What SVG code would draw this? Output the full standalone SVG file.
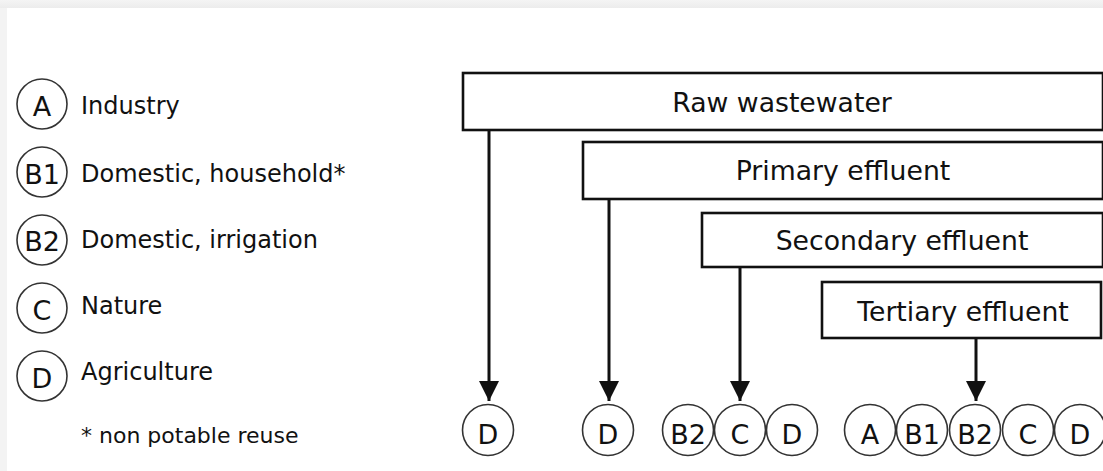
<svg xmlns="http://www.w3.org/2000/svg" width="1103" height="471" viewBox="0 0 1103 471">
<style>
.bg{fill:#ffffff}
.box{fill:#ffffff;stroke:#111;stroke-width:2.6}
.circ{fill:#ffffff;stroke:#333;stroke-width:1.6}
.lbl{font-family:"DejaVu Sans",Verdana,sans-serif;font-size:24px;fill:#111}
.btxt{font-family:"DejaVu Sans",Verdana,sans-serif;font-size:26.7px;fill:#111;text-anchor:middle}
.ctxt{font-family:"DejaVu Sans",Verdana,sans-serif;font-size:27px;fill:#111;text-anchor:middle}
.conn{stroke:#111;stroke-width:3;fill:none}
</style>
<defs>
<marker id="arr" viewBox="0 0 20 20" markerWidth="20" markerHeight="20" refX="20" refY="10" orient="auto" markerUnits="userSpaceOnUse">
<path d="M0,0 L20,10 L0,20 Z" fill="#111"/>
</marker>
<linearGradient id="topg" x1="0" y1="0" x2="0" y2="1"><stop offset="0" stop-color="#f4f4f4"/><stop offset="1" stop-color="#ececec"/></linearGradient>
</defs>
<rect class="bg" x="0" y="0" width="1103" height="471"/>
<rect x="0" y="0" width="1103" height="8" fill="url(#topg)"/>
<rect x="0" y="8" width="7" height="463" fill="#f3f3f3"/>

<g id="legend">
<g id="leg-A"><circle class="circ" cx="42" cy="104" r="25"/><text class="ctxt" x="42" y="116">A</text><text class="lbl" x="81" y="114">Industry</text></g>
<g id="leg-B1"><circle class="circ" cx="42" cy="172" r="25"/><text class="ctxt" x="42" y="184">B1</text><text class="lbl" x="81" y="182">Domestic, household*</text></g>
<g id="leg-B2"><circle class="circ" cx="42" cy="240" r="25"/><text class="ctxt" x="42" y="251">B2</text><text class="lbl" x="81" y="248">Domestic, irrigation</text></g>
<g id="leg-C"><circle class="circ" cx="42" cy="308" r="25"/><text class="ctxt" x="42" y="320">C</text><text class="lbl" x="81" y="314">Nature</text></g>
<g id="leg-D"><circle class="circ" cx="42" cy="376" r="25"/><text class="ctxt" x="42" y="388">D</text><text class="lbl" x="81" y="380">Agriculture</text></g>
<text class="lbl" x="81" y="443" style="font-size:22px">* non potable reuse</text>
</g>

<g id="raw"><rect class="box" x="463" y="73" width="640" height="57"/><text class="btxt" x="782" y="112">Raw wastewater</text></g>
<g id="primary"><rect class="box" x="583" y="142" width="520" height="57"/><text class="btxt" x="843" y="180">Primary effluent</text></g>
<g id="secondary"><rect class="box" x="702" y="213" width="401" height="54"/><text class="btxt" x="902" y="250">Secondary effluent</text></g>
<g id="tertiary"><rect class="box" x="822" y="282" width="279" height="56"/><text class="btxt" x="963" y="321">Tertiary effluent</text></g>

<g id="connectors">
<line class="conn" x1="489" y1="130" x2="489" y2="401" marker-end="url(#arr)"/>
<line class="conn" x1="609" y1="199" x2="609" y2="401" marker-end="url(#arr)"/>
<line class="conn" x1="740" y1="267" x2="740" y2="401" marker-end="url(#arr)"/>
<line class="conn" x1="976" y1="338" x2="976" y2="401" marker-end="url(#arr)"/>
</g>

<g id="out-raw"><circle class="circ" cx="488" cy="430" r="25.5"/><text class="ctxt" x="488" y="444">D</text></g>
<g id="out-primary"><circle class="circ" cx="608" cy="430" r="25.5"/><text class="ctxt" x="608" y="444">D</text></g>
<g id="out-secondary">
<circle class="circ" cx="688" cy="430" r="25.5"/><text class="ctxt" x="688" y="444">B2</text>
<circle class="circ" cx="740" cy="430" r="25.5"/><text class="ctxt" x="740" y="444">C</text>
<circle class="circ" cx="792" cy="430" r="25.5"/><text class="ctxt" x="792" y="444">D</text>
</g>
<g id="out-tertiary">
<circle class="circ" cx="870" cy="430" r="25.5"/><text class="ctxt" x="870" y="444">A</text>
<circle class="circ" cx="922" cy="430" r="25.5"/><text class="ctxt" x="922" y="444">B1</text>
<circle class="circ" cx="975" cy="430" r="25.5"/><text class="ctxt" x="975" y="444">B2</text>
<circle class="circ" cx="1028" cy="430" r="25.5"/><text class="ctxt" x="1028" y="444">C</text>
<circle class="circ" cx="1080" cy="430" r="25.5"/><text class="ctxt" x="1080" y="444">D</text>
</g>
</svg>
